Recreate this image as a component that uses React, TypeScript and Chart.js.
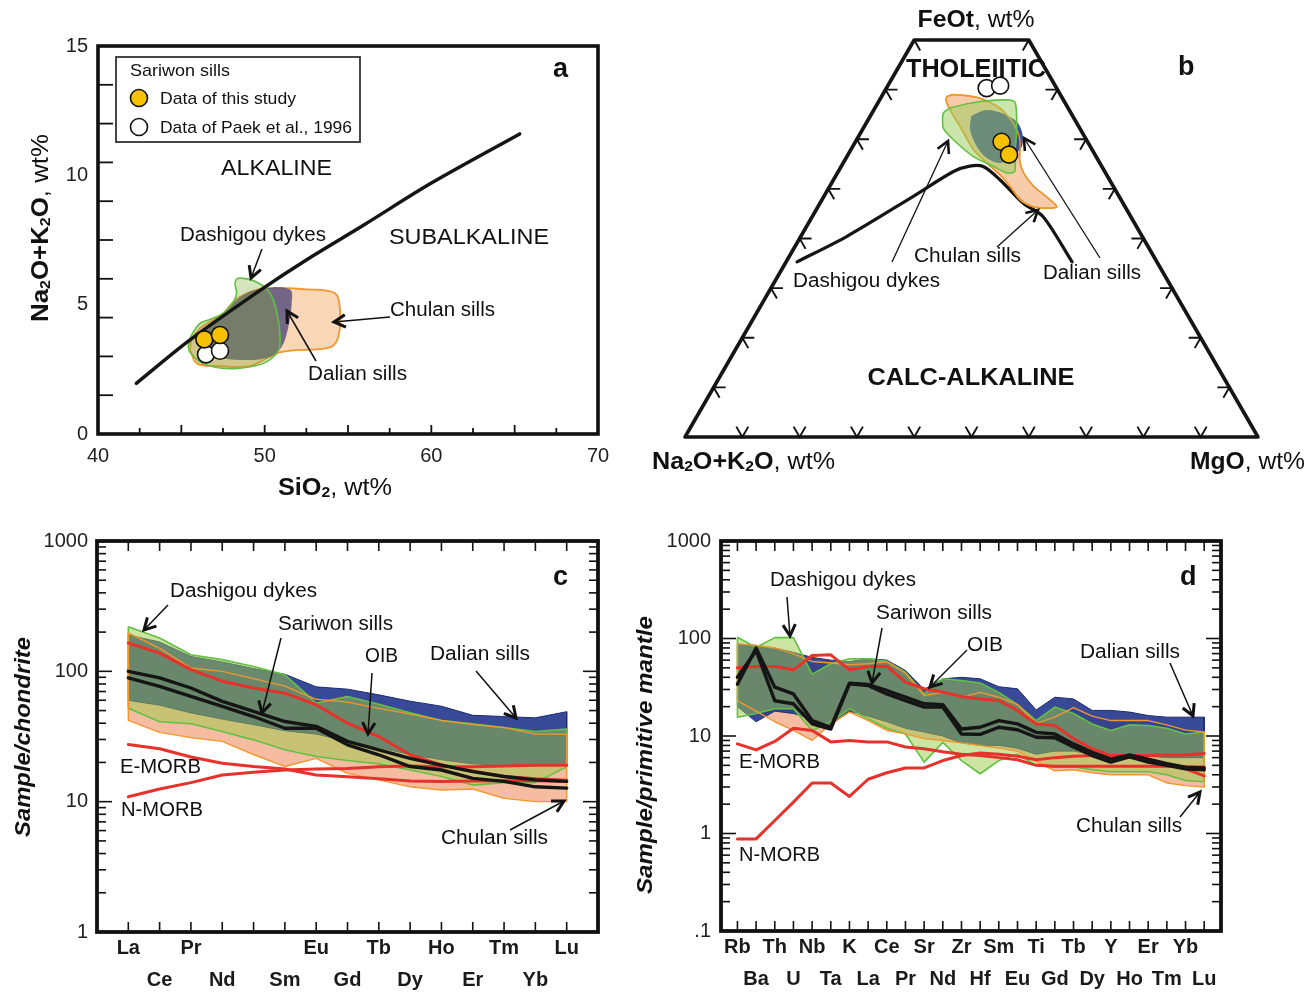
import React, { useEffect, useRef } from 'react';
import { Chart, registerables } from 'chart.js';

Chart.register(...registerables);

const NARROW = "'Liberation Sans Narrow', 'Liberation Sans', Arial, sans-serif";
const SANS = "'Liberation Sans', Arial, Helvetica, sans-serif";

/* ===================== Panel a : TAS ===================== */
const SIO2_LABELS = [40, 50, 60, 70];
const ALK_LABELS = [0, 5, 10, 15];
const SIO2_MINOR = [42.5, 45, 47.5, 50, 52.5, 55, 57.5, 60, 62.5, 65, 67.5];
const ALK_MINOR = [1.5, 3, 4.5, 6, 7.5, 9, 10.5, 12, 13.5];
const alkalineBoundary: [number, number][] = [
  [42.3, 1.96], [45.5, 3.63], [49.9, 5.63], [52.5, 6.73], [56, 8.1], [60, 9.7], [65.3, 11.6],
];
const chulanA: [number, number][] = [
  [45.52, 3.25], [45.92, 2.73], [47.12, 2.63], [49.12, 2.63], [50.72, 3.12], [51.52, 3.22],
  [53.92, 3.35], [54.42, 3.76], [54.52, 4.79], [54.22, 5.44], [52.52, 5.59], [49.92, 5.63],
  [48.72, 5.37], [48.12, 5.11], [47.52, 4.67], [46.92, 4.41], [46.12, 4.09], [45.62, 3.63],
];
const dashigouA: [number, number][] = [
  [45.48, 3.18], [46.12, 2.78], [47.32, 2.55], [48.52, 2.54], [49.92, 2.73], [50.72, 3.12],
  [50.92, 3.51], [50.82, 4.41], [50.52, 5.18], [50.12, 5.63], [49.82, 5.76], [49.32, 5.93],
  [48.42, 6.02], [48.22, 5.83], [48.32, 5.44], [48.12, 5.11], [47.52, 4.67], [46.72, 4.43],
  [46.12, 4.28], [45.62, 3.83], [45.42, 3.44],
];
const dalianA: [number, number][] = [
  [46.12, 3.76], [47.52, 4.67], [48.72, 5.37], [49.92, 5.63], [51.52, 5.59], [51.62, 5.05],
  [51.42, 4.15], [51.02, 3.37], [50.32, 2.99], [48.92, 2.86], [47.12, 2.99], [46.12, 3.37],
];
const thisStudyA: [number, number][] = [[46.38, 3.66], [47.32, 3.83]];
const paekA: [number, number][] = [[46.48, 3.08], [47.32, 3.22]];

/* ===================== Panel b : AFM ternary [Na2O+K2O, FeOt, MgO] ===================== */
type Tri = [number, number, number];
const TRI_OUTLINE: Tri[] = [[100, 0, 0], [0, 0, 100], [0, 80, 20], [20, 80, 0]];
const TERN_TICKS_BASE = [10, 20, 30, 40, 50, 60, 70, 80, 90];
const TERN_TICKS_SIDE = [10, 20, 30, 40, 50, 60, 70, 80];
const afmBoundary: Tri[] = [
  [62.8, 35.3, 1.9], [51.6, 40.4, 8.0], [35.9, 48.5, 15.6], [26.4, 53.5, 20.1], [23.0, 54.6, 22.4],
  [20.7, 54.5, 24.8], [19.1, 51.8, 29.1], [17.4, 47.1, 35.5], [15.3, 44.4, 40.3], [14.8, 35.3, 49.9],
];
const chulanB: Tri[] = [
  [20.0, 68.6, 11.4], [18.7, 69.0, 12.3], [14.4, 68.3, 17.3], [11.9, 66.3, 21.8], [11.1, 63.2, 25.7],
  [11.6, 59.9, 28.5], [13.7, 55.8, 30.5], [14.3, 53.2, 32.5], [13.9, 50.5, 35.6], [12.7, 48.4, 38.9],
  [11.9, 46.4, 41.7], [13.8, 46.1, 40.1], [16.0, 46.4, 37.6], [17.6, 47.8, 34.6], [18.0, 50.5, 31.5],
  [18.6, 52.8, 28.6], [19.7, 55.2, 25.1], [20.7, 57.9, 21.4], [20.7, 62.6, 16.7], [20.8, 65.9, 13.3],
  [20.5, 67.9, 11.6],
];
const dashigouB: Tri[] = [
  [22.3, 65.3, 12.4], [20.6, 66.3, 13.1], [14.7, 67.6, 17.7], [9.3, 67.9, 22.8], [8.7, 67.3, 24.0],
  [10.8, 62.6, 26.6], [13.8, 57.2, 29.0], [15.7, 53.5, 30.8], [17.2, 53.2, 29.6], [18.9, 54.5, 26.6],
  [21.4, 56.5, 22.1], [23.2, 59.9, 16.9], [23.8, 62.2, 14.0], [22.9, 64.3, 12.8],
];
const dalianB: Tri[] = [
  [17.7, 64.7, 17.6], [14.5, 65.9, 19.6], [11.8, 65.1, 23.1], [10.3, 63.5, 26.2], [10.5, 61.3, 28.2],
  [11.8, 58.7, 29.5], [14.1, 56.9, 29.0], [17.4, 55.2, 27.4], [19.3, 56.3, 24.4], [19.8, 58.7, 21.5],
  [19.3, 61.9, 18.8],
];
const thisStudyB: Tri[] = [[15.0, 59.5, 25.5], [15.0, 56.9, 28.1]];
const paekB: Tri[] = [[12.2, 70.3, 17.5], [9.6, 70.8, 19.6]];

/* ===================== Panel c : chondrite-normalised REE ===================== */
const REE = ['La', 'Ce', 'Pr', 'Nd', 'Pm', 'Sm', 'Eu', 'Gd', 'Tb', 'Dy', 'Ho', 'Er', 'Tm', 'Yb', 'Lu'];
const REE_UNLABELLED = ['Pm'];
const C_Y_TICKS = [1, 10, 100, 1000];
const dalianTopC = [190, 168, 130, 118, 105, 95, 76, 73, 66, 59, 54, 46, 45, 44, 49];
const dalianLowC = [60, 55, 48, 43, 39, 35, 33, 29, 26, 23, 21, 19.5, 19, 19, 19];
const chulanTopC = [197, 150, 106, 100, 88, 77, 61, 58, 52, 47, 42, 39, 37, 33, 33];
const chulanLowC = [42, 34, 31, 29, 23, 18.6, 21.5, 16.5, 14.7, 13, 12.3, 12.5, 10.6, 10, 10];
const dashigouTopC = [220, 180, 134, 123, 109, 94, 57, 64, 56, 48, 42, 39.6, 37, 34.5, 36];
const dashigouLowC = [52, 41, 39.6, 34.5, 29.8, 25, 22.2, 20.7, 19.5, 17.5, 15.6, 13.4, 14, 14, 18.5];
const sariwonC1 = [100, 89, 74.5, 58.8, 49.2, 41.2, 37.8, 29, 25, 21.5, 19.1, 17, 15.6, 14.7, 14.3];
const sariwonC2 = [89, 76.7, 64.2, 53.8, 45, 36.6, 36.6, 27.3, 22.9, 18.6, 17.5, 15.1, 14.3, 13, 12.7];
const oibC = [165, 138, 103, 84, 74.5, 68, 55.4, 40, 31.6, 22.9, 19.1, 17.2, 15.6, 15, 14.6];
const eMorbC = [27.5, 25.5, 22, 19.7, 18.6, 17.8, 16, 15.5, 15, 14.4, 14.3, 14.4, 14.5, 14.5, 14.3];
const nMorbC = [10.9, 12.5, 14, 16, 16.8, 17.5, 17.8, 18, 18.5, 18.8, 18.5, 18.5, 18.8, 19, 19];

/* ===================== Panel d : primitive-mantle-normalised spider ===================== */
const TE = ['Rb', 'Ba', 'Th', 'U', 'Nb', 'Ta', 'K', 'La', 'Ce', 'Pr', 'Sr', 'Nd', 'Zr', 'Hf', 'Sm',
  'Eu', 'Ti', 'Gd', 'Tb', 'Dy', 'Y', 'Ho', 'Er', 'Tm', 'Yb', 'Lu'];
const D_Y_TICKS = [0.1, 1, 10, 100, 1000];
const dalianTopD = [88, 85, 80, 72, 64, 60, 58, 62, 60, 47, 30, 38.6, 40, 38.6, 32, 30.5, 18.5, 25, 24, 18.3, 18.3, 17.6, 16.2, 15.6, 15.6, 15.6];
const dalianLowD = [20, 14, 18, 17, 15, 13, 18, 16, 14, 12, 11, 10, 8.5, 8, 8, 7.5, 6.5, 7, 7, 6.5, 6.2, 6.2, 6.2, 6, 6, 6];
const chulanTopD = [88, 85, 80, 70, 58, 56, 54, 55, 58, 44, 26, 28, 25, 28, 25, 21, 13.5, 15.6, 19.5, 16, 14.4, 14.4, 14.4, 13, 11.5, 11];
const chulanLowD = [23, 18, 14, 11.4, 9, 13.3, 17.6, 14.4, 11.4, 10.5, 9.4, 9, 8.5, 8, 7.5, 7, 5.5, 4.4, 4.5, 4.2, 4, 4, 4, 3.3, 3.1, 3.0];
const dashigouTopD = [103, 81, 102, 102, 43, 55, 62, 62, 58, 45, 27, 38.6, 37, 35, 28, 21, 14.4, 19.8, 17, 13.3, 11.4, 13, 12.8, 12, 10.5, 11];
const dashigouLowD = [15.6, 17, 19, 19, 11.4, 14, 19, 15, 12, 10.5, 5.4, 8.6, 5.6, 4.1, 5.6, 6.5, 5, 4.8, 4.8, 4.5, 4.3, 4.3, 4.3, 4, 3.5, 3.4];
const sariwonD1 = [34, 80, 31.7, 27, 14.4, 12.3, 34.8, 33.7, 29.3, 25, 21.4, 21, 11.8, 12.3, 14.4, 13.3, 10.9, 10.5, 8.3, 6.8, 5.8, 6.4, 5.8, 5.2, 4.8, 4.7];
const sariwonD2 = [40, 75, 23, 21.4, 13.3, 11.8, 34.3, 33, 27, 23, 19.8, 19.8, 10.5, 10.4, 12.3, 11.6, 9.7, 9.6, 7.7, 6.3, 5.4, 6.1, 5.4, 5.0, 4.6, 4.5];
const oibD = [50, 51.6, 51.6, 47.7, 67, 68, 47.7, 51.6, 52, 35.7, 30.5, 28.2, 25.4, 24, 23.1, 18.3, 13.3, 12.8, 9.4, 7.4, 6.3, 6.1, 5.6, 5.2, 4.6, 3.9];
const eMorbD = [8.3, 7.2, 8.8, 12, 11.4, 8.7, 9.0, 8.7, 8.7, 7.7, 7.4, 6.9, 6.5, 6.3, 6.0, 5.7, 5.0, 4.9, 4.9, 4.9, 4.9, 4.9, 4.9, 4.9, 4.8, 4.8];
const nMorbD = [0.88, 0.88, 1.36, 2.1, 3.3, 3.3, 2.4, 3.6, 4.2, 4.7, 4.7, 5.6, 6.3, 6.7, 6.5, 6.2, 5.7, 6.0, 6.2, 6.3, 6.3, 6.3, 6.3, 6.4, 6.4, 6.6];

/* ===================== styling ===================== */
const RED = '#e6322b';
const BLACK = '#151515';
const ORANGE = '#f2962f';
const GREEN = '#62c043';
const YELLOW = '#f6c200';

/* ===================== helpers ===================== */
const xyPts = (arr: [number, number][]) => arr.map(([x, y]) => ({ x, y }));
const closed = (a: any[]) => [...a, a[0]];
const triToXY = (t: Tri) => ({ x: (t[2] + t[1] / 2) / 100, y: (t[1] * Math.sqrt(3) / 2) / 100 });
const triPts = (arr: Tri[]) => arr.map(triToXY);
const series = (vals: number[]) => vals.map((y, i) => ({ x: i, y }));
const envelope = (up: number[], lo: number[]) => {
  const pts = series(up);
  for (let i = lo.length - 1; i >= 0; i--) pts.push({ x: i, y: lo[i] });
  pts.push(pts[0]);
  return pts;
};

const polyDS = (data: any[], fill: string, stroke: string, bw: number, tension = 0) => ({
  data, fill: 'shape', backgroundColor: fill, borderColor: stroke, borderWidth: bw,
  pointRadius: 0, pointHoverRadius: 0, tension, showLine: true, borderJoinStyle: 'round',
});
const lineDS = (data: any[], color: string, bw: number, tension = 0) => ({
  data, fill: false, borderColor: color, backgroundColor: color, borderWidth: bw, pointRadius: 0,
  pointHoverRadius: 0, tension, showLine: true, borderCapStyle: 'round', borderJoinStyle: 'round',
});
const markerDS = (data: any[], fill: string) => ({
  data, fill: false, showLine: false, pointRadius: 8.5, pointHoverRadius: 8.5,
  pointBackgroundColor: fill, pointBorderColor: '#111', pointBorderWidth: 1.6,
});

/* ---- annotations (text, arrows, legend box) ---- */
type Part = { t: string; b?: boolean; i?: boolean; sub?: boolean };
type Item =
  | { kind: 'text'; parts: Part[]; x: number; y: number; w?: number; size: number; family?: string; center?: boolean; rot?: number }
  | { kind: 'arrow'; x1: number; y1: number; x2: number; y2: number; lw?: number; hw?: number; hl?: number }
  | { kind: 'rect'; x: number; y: number; w: number; h: number }
  | { kind: 'circle'; x: number; y: number; r: number; fill: string };

const T = (t: string, x: number, y: number, w: number, size = 20, extra: any = {}): Item =>
  ({ kind: 'text', parts: [{ t }], x, y, w, size, ...extra });
const A = (x1: number, y1: number, x2: number, y2: number, extra: any = {}): Item =>
  ({ kind: 'arrow', x1, y1, x2, y2, ...extra });

const fontOf = (p: Part, size: number, fam: string) =>
  `${p.i ? 'italic ' : ''}${p.b ? 'bold ' : ''}${p.sub ? size * 0.62 : size}px ${fam}`;

function drawItem(ctx: CanvasRenderingContext2D, it: Item, ox: number, oy: number) {
  ctx.save();
  ctx.strokeStyle = '#111';
  ctx.fillStyle = '#111';
  if (it.kind === 'text') {
    const fam = it.family || NARROW;
    let nat = 0;
    for (const p of it.parts) { ctx.font = fontOf(p, it.size, fam); nat += ctx.measureText(p.t).width; }
    const sx = it.w ? it.w / nat : 1;
    ctx.translate(it.x - ox, it.y - oy);
    if (it.rot) ctx.rotate(it.rot);
    ctx.scale(sx, 1);
    ctx.textBaseline = 'middle';
    ctx.textAlign = 'left';
    let cx = it.center ? -nat / 2 : 0;
    for (const p of it.parts) {
      ctx.font = fontOf(p, it.size, fam);
      ctx.fillText(p.t, cx, p.sub ? it.size * 0.2 : 0);
      cx += ctx.measureText(p.t).width;
    }
  } else if (it.kind === 'arrow') {
    const x1 = it.x1 - ox, y1 = it.y1 - oy, x2 = it.x2 - ox, y2 = it.y2 - oy;
    ctx.lineWidth = it.lw ?? 1.5;
    ctx.beginPath(); ctx.moveTo(x1, y1); ctx.lineTo(x2, y2); ctx.stroke();
    const ang = Math.atan2(y2 - y1, x2 - x1);
    const hl = it.hl ?? 13, sp = 0.5;
    ctx.lineWidth = it.hw ?? 3;
    ctx.lineCap = 'butt';
    ctx.lineJoin = 'miter';
    ctx.beginPath();
    ctx.moveTo(x2 - hl * Math.cos(ang - sp), y2 - hl * Math.sin(ang - sp));
    ctx.lineTo(x2, y2);
    ctx.lineTo(x2 - hl * Math.cos(ang + sp), y2 - hl * Math.sin(ang + sp));
    ctx.stroke();
  } else if (it.kind === 'rect') {
    ctx.lineWidth = 1.8;
    ctx.strokeStyle = '#333';
    ctx.strokeRect(it.x - ox, it.y - oy, it.w, it.h);
  } else if (it.kind === 'circle') {
    ctx.lineWidth = 1.6;
    ctx.beginPath(); ctx.arc(it.x - ox, it.y - oy, it.r, 0, Math.PI * 2);
    ctx.fillStyle = it.fill; ctx.fill(); ctx.stroke();
  }
  ctx.restore();
}
const annotPlugin = (id: string, items: Item[], ox: number, oy: number) => ({
  id,
  afterDraw(chart: any) { for (const it of items) drawItem(chart.ctx, it, ox, oy); },
});

const NA2O_K2O = (): Part[] => [
  { t: 'Na', b: true }, { t: '2', b: true, sub: true }, { t: 'O+K', b: true }, { t: '2', b: true, sub: true },
  { t: 'O', b: true }, { t: ', wt%' },
];

/* ---- panel-specific items (page coordinates) ---- */
const itemsA: Item[] = [
  { kind: 'rect', x: 116, y: 57, w: 244, h: 85 },
  T('Sariwon sills', 130, 71, 100, 17),
  { kind: 'circle', x: 139, y: 98, r: 8.5, fill: YELLOW },
  T('Data of this study', 160, 99, 136, 17),
  { kind: 'circle', x: 139, y: 127, r: 8.5, fill: '#fff' },
  T('Data of Paek et al., 1996', 160, 128, 192, 17),
  T('ALKALINE', 221, 169, 111, 22),
  T('SUBALKALINE', 389, 238, 160, 22),
  T('Dashigou dykes', 180, 235, 146, 20),
  T('Chulan sills', 390, 310, 105, 20),
  T('Dalian sills', 308, 374, 99, 20),
  { kind: 'text', parts: [{ t: 'a', b: true }], x: 553, y: 70, size: 27, family: SANS },
  { kind: 'text', parts: [{ t: 'SiO', b: true }, { t: '2', b: true, sub: true }, { t: ', wt%' }], x: 335, y: 488, w: 114, size: 24, family: SANS, center: true },
  { kind: 'text', parts: NA2O_K2O(), x: 41, y: 228, w: 188, size: 24, family: SANS, center: true, rot: -Math.PI / 2 },
  A(262, 249, 251, 278),
  A(390, 317, 334, 322),
  A(316, 361, 287, 311),
];

const itemsB: Item[] = [
  { kind: 'text', parts: [{ t: 'FeOt', b: true }, { t: ', wt%' }], x: 976, y: 20, w: 117, size: 24, family: SANS, center: true },
  { kind: 'text', parts: [{ t: 'THOLEIITIC', b: true }], x: 976, y: 70, w: 140, size: 26, family: SANS, center: true },
  { kind: 'text', parts: [{ t: 'b', b: true }], x: 1178, y: 68, size: 27, family: SANS },
  { kind: 'text', parts: [{ t: 'CALC-ALKALINE', b: true }], x: 971, y: 378, w: 207, size: 24, family: SANS, center: true },
  { kind: 'text', parts: NA2O_K2O(), x: 652, y: 462, w: 183, size: 24, family: SANS },
  { kind: 'text', parts: [{ t: 'MgO', b: true }, { t: ', wt%' }], x: 1190, y: 462, w: 115, size: 24, family: SANS },
  T('Chulan sills', 914, 256, 107, 20),
  T('Dashigou dykes', 793, 281, 147, 20),
  T('Dalian sills', 1043, 273, 98, 20),
  A(892, 262, 948, 141, { lw: 1.3, hw: 2.6 }),
  A(997, 247, 1038, 210, { lw: 1.3, hw: 2.6 }),
  A(1100, 258, 1024, 138, { lw: 1.3, hw: 2.6 }),
];

const itemsC: Item[] = [
  T('Dashigou dykes', 170, 591, 147, 20),
  T('Sariwon sills', 278, 624, 115, 20),
  T('OIB', 365, 656, 33, 20),
  T('Dalian sills', 430, 654, 100, 20),
  T('E-MORB', 120, 767, 81, 20),
  T('N-MORB', 121, 810, 82, 20),
  T('Chulan sills', 441, 838, 107, 20),
  { kind: 'text', parts: [{ t: 'c', b: true }], x: 553, y: 578, size: 27, family: SANS },
  { kind: 'text', parts: [{ t: 'Sample/chondrite', b: true, i: true }], x: 24, y: 737, w: 200, size: 22, family: SANS, center: true, rot: -Math.PI / 2 },
  A(168, 605, 144, 630),
  A(281, 638, 262, 713),
  A(372, 673, 368, 734),
  A(476, 671, 516, 718),
  A(510, 830, 564, 801),
];

const itemsD: Item[] = [
  T('Dashigou dykes', 770, 580, 146, 20),
  T('Sariwon sills', 876, 613, 116, 20),
  T('OIB', 967, 645, 36, 20),
  T('Dalian sills', 1080, 652, 100, 20),
  T('E-MORB', 739, 762, 81, 20),
  T('N-MORB', 739, 855, 81, 20),
  T('Chulan sills', 1076, 826, 106, 20),
  { kind: 'text', parts: [{ t: 'd', b: true }], x: 1180, y: 578, size: 27, family: SANS },
  { kind: 'text', parts: [{ t: 'Sample/primitive mantle', b: true, i: true }], x: 646, y: 755, w: 278, size: 22, family: SANS, center: true, rot: -Math.PI / 2 },
  A(787, 597, 790, 636),
  A(882, 628, 872, 683),
  A(967, 650, 930, 687),
  A(1170, 663, 1193, 716),
  A(1180, 817, 1200, 792),
];

/* ---- frames & inward ticks ---- */
function seg(ctx: CanvasRenderingContext2D, x1: number, y1: number, x2: number, y2: number) {
  ctx.beginPath(); ctx.moveTo(x1, y1); ctx.lineTo(x2, y2); ctx.stroke();
}
const frameA = {
  id: 'frameA',
  afterDatasetsDraw(chart: any) {
    const { ctx, chartArea: ca, scales } = chart;
    ctx.save();
    ctx.strokeStyle = '#111';
    ctx.lineWidth = 1.8;
    for (const v of ALK_MINOR) { const y = scales.y.getPixelForValue(v); seg(ctx, ca.left, y, ca.left + 15, y); }
    for (const v of SIO2_MINOR) {
      const x = scales.x.getPixelForValue(v);
      seg(ctx, x, ca.bottom, x, ca.bottom - (v % 5 === 0 ? 9 : 6));
    }
    ctx.lineWidth = 3.6;
    ctx.strokeRect(ca.left, ca.top, ca.right - ca.left, ca.bottom - ca.top);
    ctx.restore();
  },
};
const logFrame = (id: string, nCats: number, dMin: number, dMax: number) => ({
  id,
  afterDatasetsDraw(chart: any) {
    const { ctx, chartArea: ca, scales } = chart;
    ctx.save();
    ctx.strokeStyle = '#111';
    ctx.lineWidth = 1.6;
    for (let i = 0; i < nCats; i++) {
      const px = scales.x.getPixelForValue(i);
      seg(ctx, px, ca.bottom, px, ca.bottom - 10);
      seg(ctx, px, ca.top, px, ca.top + 10);
    }
    for (let d = dMin; d < dMax; d++) {
      for (let k = 1; k <= 9; k++) {
        if (k === 1 && d === dMin) continue;
        const py = scales.y.getPixelForValue(k * Math.pow(10, d));
        const L = k === 1 ? 15 : 9;
        seg(ctx, ca.left, py, ca.left + L, py);
        seg(ctx, ca.right, py, ca.right - L, py);
      }
    }
    ctx.lineWidth = 3.8;
    ctx.strokeRect(ca.left, ca.top, ca.right - ca.left, ca.bottom - ca.top);
    ctx.restore();
  },
});
const ternaryTicks = {
  id: 'ternTicks',
  afterDatasetsDraw(chart: any) {
    const { ctx, scales } = chart;
    const px = (t: Tri) => { const p = triToXY(t); return [scales.x.getPixelForValue(p.x), scales.y.getPixelForValue(p.y)]; };
    const L = 12, s = Math.sqrt(3) / 2;
    ctx.save();
    ctx.strokeStyle = '#111';
    ctx.lineWidth = 1.9;
    const chev = (P: number[], d1: number[], d2: number[]) => {
      ctx.beginPath();
      ctx.moveTo(P[0] + d1[0] * L, P[1] + d1[1] * L);
      ctx.lineTo(P[0], P[1]);
      ctx.lineTo(P[0] + d2[0] * L, P[1] + d2[1] * L);
      ctx.stroke();
    };
    for (const k of TERN_TICKS_BASE) chev(px([100 - k, 0, k]), [-0.5, -s], [0.5, -s]);
    for (const k of TERN_TICKS_SIDE) {
      chev(px([100 - k, k, 0]), [1, 0], [0.5, s]);
      chev(px([0, k, 100 - k]), [-1, 0], [-0.5, s]);
    }
    ctx.restore();
  },
};

const baseOpts = (padding: any) => ({
  responsive: false,
  animation: false,
  events: [],
  layout: { padding, autoPadding: false },
  plugins: { legend: { display: false }, tooltip: { enabled: false } },
});
const noGrid = { display: false, drawTicks: false };

/* ===================== configs ===================== */
function configA(): any {
  return {
    type: 'line',
    data: {
      datasets: [
        markerDS(xyPts(thisStudyA), YELLOW),
        markerDS(xyPts(paekA), '#ffffff'),
        lineDS(xyPts(alkalineBoundary), BLACK, 3.5, 0.3),
        polyDS(closed(xyPts(dashigouA)), 'rgba(120,172,50,0.32)', GREEN, 1.6, 0.35),
        polyDS(closed(xyPts(dalianA)), 'rgba(82,74,122,0.80)', 'rgba(0,0,0,0)', 0, 0.35),
        polyDS(closed(xyPts(chulanA)), 'rgba(246,196,150,0.70)', ORANGE, 1.8, 0.35),
      ],
    },
    options: {
      ...baseOpts({ top: 46, right: 42, left: 0, bottom: 0 }),
      scales: {
        x: {
          type: 'linear', min: 40, max: 70,
          afterFit: (s: any) => { s.height = 76; },
          afterBuildTicks: (s: any) => { s.ticks = SIO2_LABELS.map((value) => ({ value })); },
          ticks: { font: { family: NARROW, size: 20 }, color: '#222', padding: 10, autoSkip: false, maxRotation: 0 },
          grid: noGrid, border: { display: false },
        },
        y: {
          type: 'linear', min: 0, max: 15,
          afterFit: (s: any) => { s.width = 98; },
          afterBuildTicks: (s: any) => { s.ticks = ALK_LABELS.map((value) => ({ value })); },
          ticks: { font: { family: NARROW, size: 20 }, color: '#222', padding: 10, autoSkip: false },
          grid: noGrid, border: { display: false },
        },
      },
    },
    plugins: [frameA, annotPlugin('annA', itemsA, 0, 0)],
  };
}

const B_LEFT = 640, B_TOP = 0, B_W = 675, B_H = 510;
const TRI_X0 = 685, TRI_BASE = 437, TRI_SIDE = 573;
function configB(): any {
  return {
    type: 'line',
    data: {
      datasets: [
        lineDS(closed(triPts(TRI_OUTLINE)), BLACK, 3.6, 0),
        markerDS(triPts(thisStudyB), YELLOW),
        markerDS(triPts(paekB), '#ffffff'),
        polyDS(closed(triPts(dashigouB)), 'rgba(150,205,90,0.50)', GREEN, 1.6, 0.25),
        lineDS(closed(triPts(chulanB)), ORANGE, 1.4, 0.25),
        polyDS(closed(triPts(dalianB)), 'rgba(48,64,150,0.92)', 'rgba(0,0,0,0)', 0, 0.3),
        polyDS(closed(triPts(chulanB)), 'rgba(242,160,100,0.55)', ORANGE, 1.6, 0.25),
        lineDS(triPts(afmBoundary), BLACK, 3.2, 0.3),
      ],
    },
    options: {
      ...baseOpts(0),
      scales: {
        x: { type: 'linear', display: false, min: (B_LEFT - TRI_X0) / TRI_SIDE, max: (B_LEFT + B_W - TRI_X0) / TRI_SIDE },
        y: { type: 'linear', display: false, min: (TRI_BASE - B_TOP - B_H) / TRI_SIDE, max: (TRI_BASE - B_TOP) / TRI_SIDE },
      },
    },
    plugins: [ternaryTicks, annotPlugin('annB', itemsB, B_LEFT, B_TOP)],
  };
}

// stacking (top -> bottom): Chulan outline, Dashigou (translucent green), Dalian (navy), Chulan fill (salmon)
const envDatasets = (dTop: number[], dLow: number[], cTop: number[], cLow: number[], gTop: number[], gLow: number[]) => [
  lineDS(envelope(cTop, cLow), ORANGE, 1.4),
  polyDS(envelope(gTop, gLow), 'rgba(155,204,72,0.50)', GREEN, 1.6),
  polyDS(envelope(dTop, dLow), 'rgba(34,54,140,0.90)', '#1d2b6e', 1),
  polyDS(envelope(cTop, cLow), 'rgba(238,122,70,0.50)', 'rgba(0,0,0,0)', 0),
];

function configC(): any {
  return {
    type: 'line',
    data: {
      datasets: [
        lineDS(series(sariwonC1), BLACK, 3.4),
        lineDS(series(sariwonC2), BLACK, 3.4),
        lineDS(series(oibC), RED, 3),
        lineDS(series(eMorbC), RED, 3),
        lineDS(series(nMorbC), RED, 3),
        ...envDatasets(dalianTopC, dalianLowC, chulanTopC, chulanLowC, dashigouTopC, dashigouLowC),
      ],
    },
    options: {
      ...baseOpts({ top: 31, right: 22, left: 0, bottom: 0 }),
      scales: {
        x: {
          type: 'linear', min: -1, max: 15,
          afterFit: (s: any) => { s.height = 62; },
          afterBuildTicks: (s: any) => { s.ticks = REE.map((_, i) => ({ value: i })); },
          ticks: {
            font: { family: NARROW, size: 20, weight: 'bold', lineHeight: '32px' }, color: '#1a1a1a', padding: 0,
            autoSkip: false, maxRotation: 0, minRotation: 0,
            callback: (v: any) => {
              const i = Math.round(v); const n = REE[i];
              const name = REE_UNLABELLED.includes(n) ? '' : n;
              return i % 2 === 0 ? name : ['', name];
            },
          },
          grid: noGrid, border: { display: false },
        },
        y: {
          type: 'logarithmic', min: 1, max: 1000,
          afterFit: (s: any) => { s.width = 97; },
          afterBuildTicks: (s: any) => { s.ticks = C_Y_TICKS.map((value) => ({ value })); },
          ticks: { font: { family: NARROW, size: 20 }, color: '#222', padding: 9, autoSkip: false, callback: (v: any) => String(v) },
          grid: noGrid, border: { display: false },
        },
      },
    },
    plugins: [logFrame('frameC', REE.length, 0, 3), annotPlugin('annC', itemsC, 0, 510)],
  };
}

function configD(): any {
  return {
    type: 'line',
    data: {
      datasets: [
        lineDS(series(sariwonD1), BLACK, 3.4),
        lineDS(series(sariwonD2), BLACK, 3.4),
        lineDS(series(oibD), RED, 3),
        lineDS(series(eMorbD), RED, 3),
        lineDS(series(nMorbD), RED, 3),
        ...envDatasets(dalianTopD, dalianLowD, chulanTopD, chulanLowD, dashigouTopD, dashigouLowD),
      ],
    },
    options: {
      ...baseOpts({ top: 31, right: 94, left: 0, bottom: 0 }),
      scales: {
        x: {
          type: 'linear', min: -0.88, max: 25.9,
          afterFit: (s: any) => { s.height = 63; },
          afterBuildTicks: (s: any) => { s.ticks = TE.map((_, i) => ({ value: i })); },
          ticks: {
            font: { family: NARROW, size: 20, weight: 'bold', lineHeight: '32px' }, color: '#1a1a1a', padding: 0,
            autoSkip: false, maxRotation: 0, minRotation: 0,
            callback: (v: any) => { const i = Math.round(v); return i % 2 === 0 ? TE[i] : ['', TE[i]]; },
          },
          grid: noGrid, border: { display: false },
        },
        y: {
          type: 'logarithmic', min: 0.1, max: 1000,
          afterFit: (s: any) => { s.width = 101; },
          afterBuildTicks: (s: any) => { s.ticks = D_Y_TICKS.map((value) => ({ value })); },
          ticks: {
            font: { family: NARROW, size: 20 }, color: '#222', padding: 10, autoSkip: false,
            callback: (v: any) => (v < 1 ? String(v).replace(/^0/, '') : String(v)),
          },
          grid: noGrid, border: { display: false },
        },
      },
    },
    plugins: [logFrame('frameD', TE.length, -1, 3), annotPlugin('annD', itemsD, 620, 510)],
  };
}

/* ===================== component ===================== */
export default function App() {
  const refA = useRef<HTMLCanvasElement>(null);
  const refB = useRef<HTMLCanvasElement>(null);
  const refC = useRef<HTMLCanvasElement>(null);
  const refD = useRef<HTMLCanvasElement>(null);

  useEffect(() => {
    const charts: Chart[] = [];
    if (refA.current) charts.push(new Chart(refA.current, configA()));
    if (refB.current) charts.push(new Chart(refB.current, configB()));
    if (refC.current) charts.push(new Chart(refC.current, configC()));
    if (refD.current) charts.push(new Chart(refD.current, configD()));
    return () => { charts.forEach((c) => c.destroy()); };
  }, []);

  const abs = (left: number, top: number, w: number, h: number): React.CSSProperties =>
    ({ position: 'absolute', left, top, width: w, height: h });

  return (
    <div style={{ position: 'absolute', left: 0, top: 0, width: 1315, height: 994, background: '#fff', overflow: 'hidden' }}>
      <canvas ref={refA} width={640} height={510} style={abs(0, 0, 640, 510)} />
      <canvas ref={refB} width={B_W} height={B_H} style={abs(B_LEFT, B_TOP, B_W, B_H)} />
      <canvas ref={refC} width={620} height={484} style={abs(0, 510, 620, 484)} />
      <canvas ref={refD} width={695} height={484} style={abs(620, 510, 695, 484)} />
    </div>
  );
}
